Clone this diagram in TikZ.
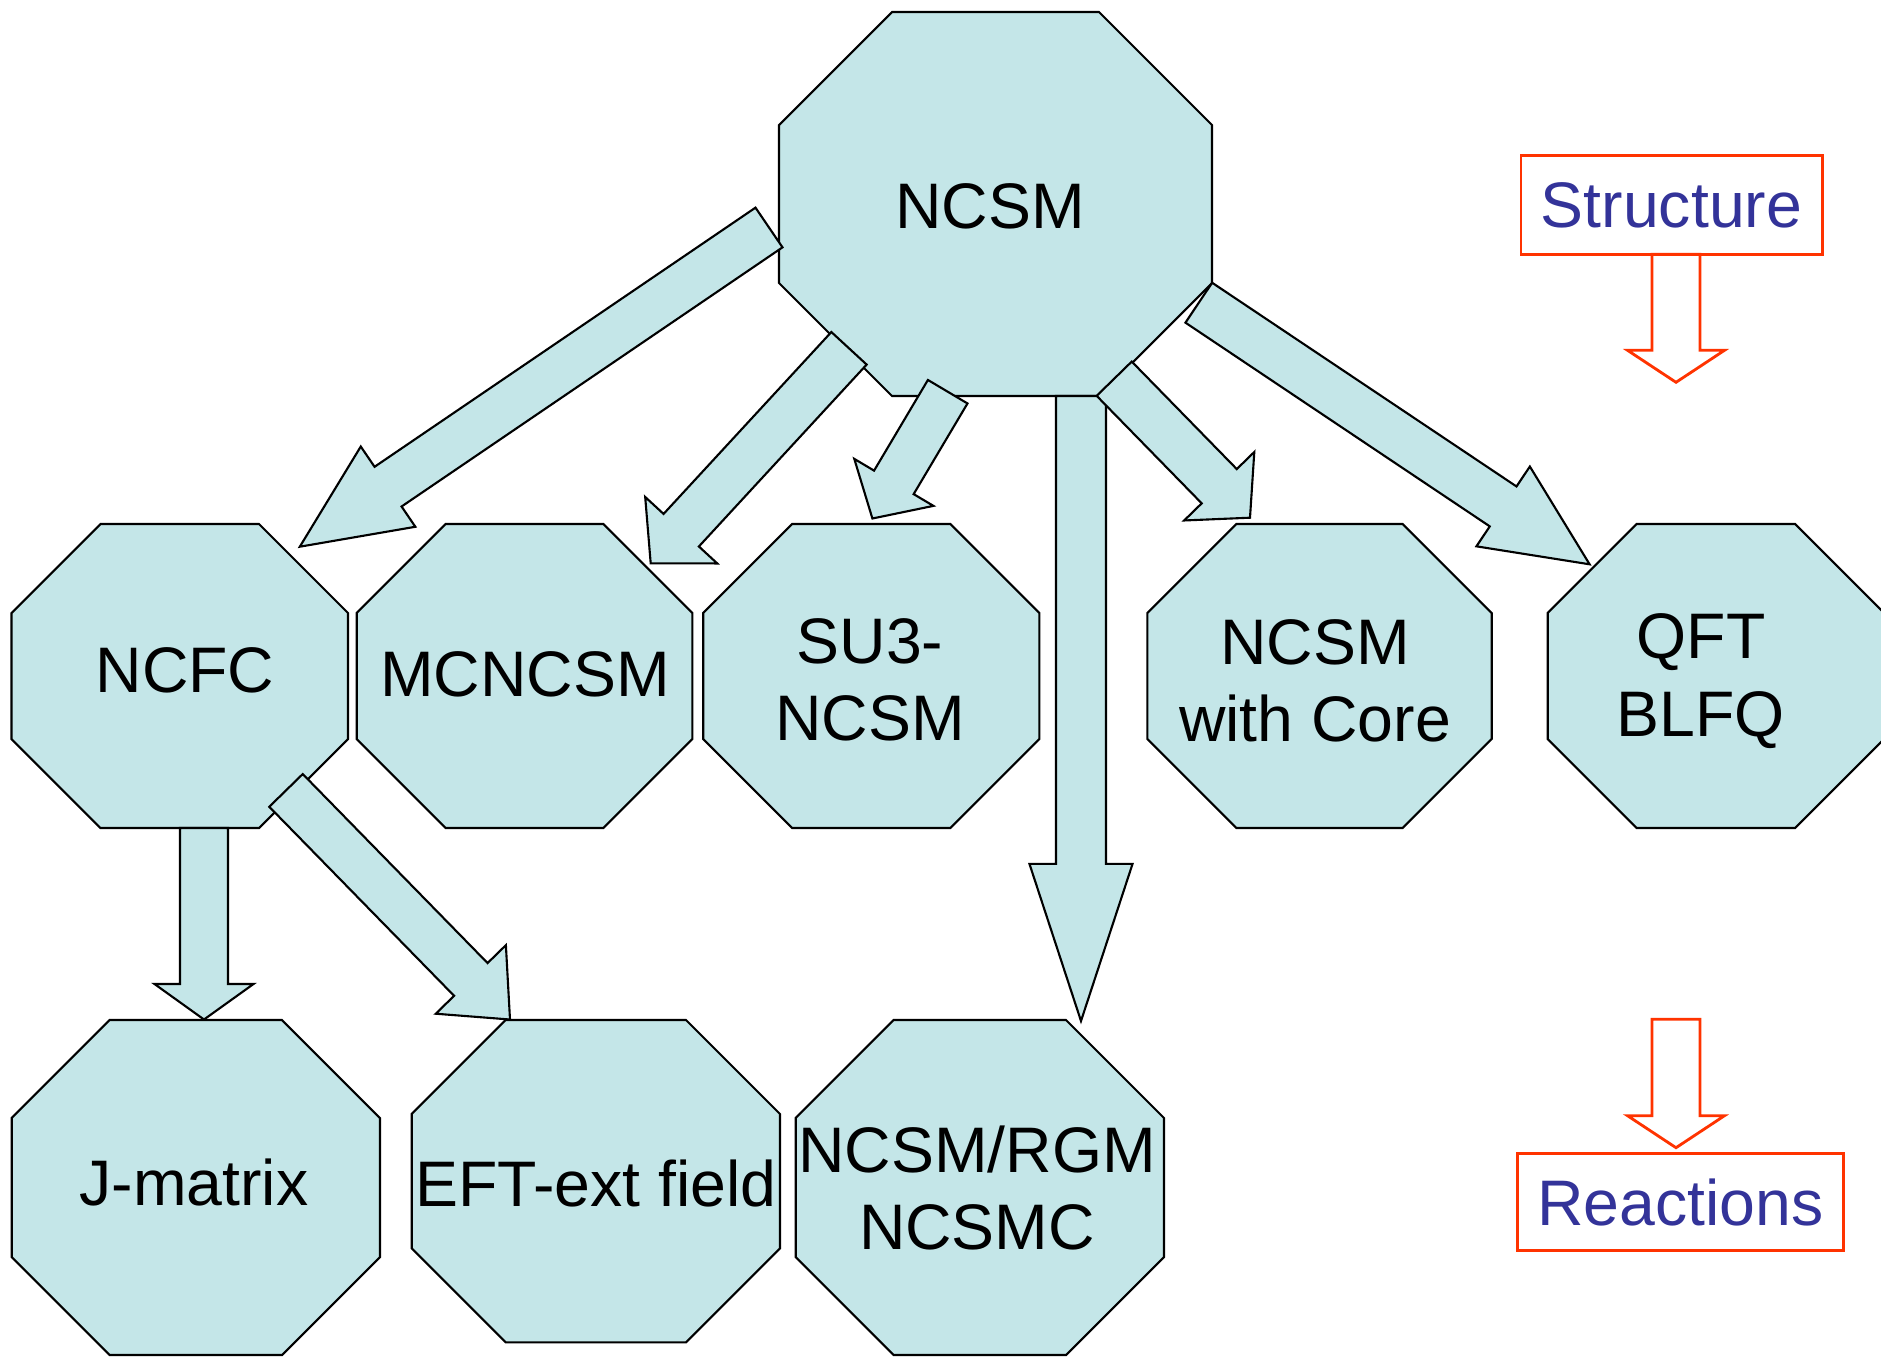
\documentclass[tikz,border=0pt]{standalone}
\usepackage{fontspec}
\setmainfont{Liberation Sans}
\usetikzlibrary{calc}

\definecolor{octfill}{HTML}{C4E6E8}
\definecolor{framered}{HTML}{FF3300}
\definecolor{tagblue}{HTML}{333399}

\tikzset{
  octa/.style={draw=black, fill=octfill, line width=0.6pt},
  lbl/.style={font=\fontsize{18.3}{22}\selectfont, align=center, inner sep=0pt},
  fat/.style={draw=black, fill=octfill, line width=0.6pt},
  hollow/.style={draw=framered, fill=white, line width=0.8pt},
  tag/.style={draw=framered, line width=0.8pt, text=tagblue, inner sep=0pt,
    font=\fontsize{18.3}{22}\selectfont},
}

% octagon: left, top, right, bottom, corner cut
\newcommand\octa[5]{%
  \draw[octa] (#1+#5,#2) -- (#3-#5,#2) -- (#3,#2+#5) -- (#3,#4-#5)
    -- (#3-#5,#4) -- (#1+#5,#4) -- (#1,#4-#5) -- (#1,#2+#5) -- cycle;}

% block arrow: style, tail, tip, half shaft, half head, head length
\newcommand\fatarrow[6][fat]{%
  \coordinate (fa-base) at ($(#3)!#6!(#2)$);
  \draw[#1] ($(#2)!#4!90:(#3)$) -- ($(fa-base)!#4!90:(#3)$)
    -- ($(fa-base)!#5!90:(#3)$) -- (#3) -- ($(fa-base)!#5!-90:(#3)$)
    -- ($(fa-base)!#4!-90:(#3)$) -- ($(#2)!#4!-90:(#3)$) -- cycle;}

\begin{document}
\begin{tikzpicture}[x=0.01cm, y=-0.01cm]
  \useasboundingbox (0,0) rectangle (1881,1357);

  % octagons
  \octa{779}{12}{1212}{396}{113}
  \octa{11.5}{524}{348}{828}{89}
  \octa{356.7}{524}{692.4}{828}{89}
  \octa{703.2}{524}{1039.3}{828}{89}
  \octa{1147.3}{524}{1491.7}{828}{89}
  \octa{1547.7}{524}{1884}{828}{89}
  \octa{11.7}{1020}{380}{1355}{98}
  \octa{411.7}{1020}{780}{1342.3}{94}
  \octa{795.7}{1020}{1164}{1355}{98}

  % arrow ends
  \coordinate (ncsm-1) at (769,227.5);
  \coordinate (ncsm-2) at (849,348.3);
  \coordinate (ncsm-3) at (947.7,391.7);
  \coordinate (ncsm-4) at (1081,396);
  \coordinate (ncsm-5) at (1114.2,378.7);
  \coordinate (ncsm-6) at (1198.8,302.7);
  \coordinate (ncfc-1) at (204,828);
  \coordinate (ncfc-2) at (286,790.4);
  \coordinate (to-ncfc) at (299.8,546.7);
  \coordinate (to-mcncsm) at (650.7,563.3);
  \coordinate (to-su3) at (872.4,518.5);
  \coordinate (to-rgm) at (1081,1021);
  \coordinate (to-core) at (1250,517.7);
  \coordinate (to-qft) at (1589.6,564.3);
  \coordinate (to-jmat) at (204,1019.5);
  \coordinate (to-eft) at (510,1019.5);
  \coordinate (st-tail) at (1676,254.3);
  \coordinate (st-tip) at (1676,382.3);
  \coordinate (re-tail) at (1676,1019.3);
  \coordinate (re-tip) at (1676,1147.7);

  % block arrows
  \fatarrow{ncsm-1}{to-ncfc}{2.4mm}{4.85mm}{10.67mm}
  \fatarrow{ncsm-2}{to-mcncsm}{2.4mm}{4.9mm}{4.5mm}
  \fatarrow{ncsm-3}{to-su3}{2.3mm}{4.6mm}{4.2mm}
  \fatarrow{ncsm-4}{to-rgm}{2.5mm}{5.15mm}{15.7mm}
  \fatarrow{ncsm-5}{to-core}{2.45mm}{4.9mm}{4.4mm}
  \fatarrow{ncsm-6}{to-qft}{2.4mm}{4.8mm}{10.4mm}
  \fatarrow{ncfc-1}{to-jmat}{2.4mm}{4.95mm}{3.55mm}
  \fatarrow{ncfc-2}{to-eft}{2.34mm}{4.9mm}{5.6mm}
  \fatarrow[hollow]{st-tail}{st-tip}{2.4mm}{4.85mm}{3.2mm}
  \fatarrow[hollow]{re-tail}{re-tip}{2.4mm}{4.85mm}{3.2mm}

  % labels
  \node[lbl] (ncsm) at (990,206) {NCSM};
  \node[lbl] (ncfc) at (185,670) {NCFC};
  \node[lbl] (mcncsm) at (525,674) {MCNCSM};
  \node[lbl] (su3) at (870,680) {SU3-\\NCSM};
  \node[lbl] (core) at (1315,681) {NCSM\\with Core};
  \node[lbl] (qft) at (1701,681) {QFT\\BLFQ};
  \node[lbl] (jmat) at (194,1182) {J-matrix};
  \node[lbl] (eft) at (596,1183) {EFT-ext field};
  \node[lbl] (rgm) at (977,1188) {NCSM/RGM\\NCSMC};

  % structure / reactions
  \node[tag, minimum width=3.01cm, minimum height=0.986cm] (structure) at (1671.5,205) {Structure};
  \node[tag, minimum width=3.256cm, minimum height=0.974cm] (reactions) at (1680.5,1202) {Reactions};
\end{tikzpicture}
\end{document}
